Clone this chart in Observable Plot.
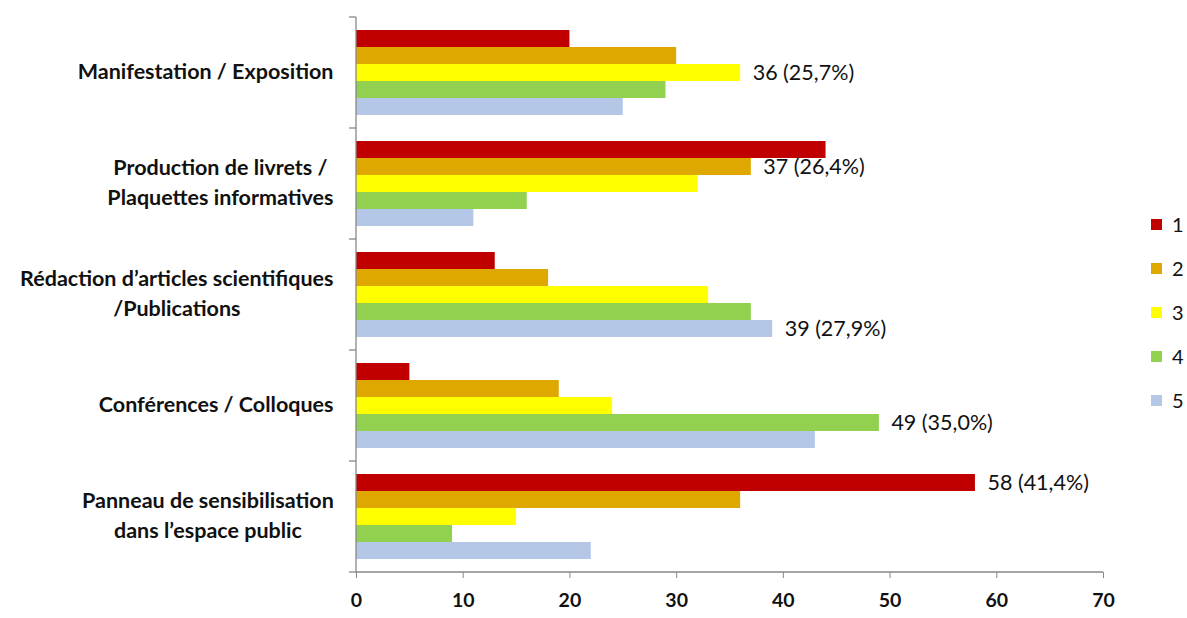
<!DOCTYPE html>
<html><head><meta charset="utf-8">
<script src="https://cdn.jsdelivr.net/npm/d3@7"></script>
<script src="https://cdn.jsdelivr.net/npm/@observablehq/plot@0.6"></script>
<style>
html,body{margin:0;padding:0;background:#fff;}
#wrap{position:relative;width:1187px;height:618px;font-family:Lato,sans-serif;}
#legend{position:absolute;left:1151px;top:212px;}
#legend .lg-swatch{margin:0 0 19px 0 !important;height:24px;}
#legend, #legend *{font-family:Lato,sans-serif !important;font-size:20px !important;color:#111 !important;}
</style></head><body><div id="wrap"><div id="legend"></div></div>
<script>
const categories = [
  "Manifestation / Exposition",
  "Production de livrets /\nPlaquettes informatives",
  "Rédaction d’articles scientifiques\n/Publications",
  "Conférences / Colloques",
  "Panneau de sensibilisation\ndans l’espace public"
];
const series = ["1", "2", "3", "4", "5"];
const series1 = [20, 44, 13, 5, 58];
const series2 = [30, 37, 18, 19, 36];
const series3 = [36, 32, 33, 24, 15];
const series4 = [29, 16, 37, 49, 9];
const series5 = [25, 11, 39, 43, 22];
const colors = ["#C00000", "#DFA800", "#FFFF00", "#92D050", "#B4C7E7"];
const xTicks = [0, 10, 20, 30, 40, 50, 60, 70];
const calloutSeries = ["3", "2", "5", "4", "1"];
const calloutLabels = ["36 (25,7%)", "37 (26,4%)", "39 (27,9%)", "49 (35,0%)", "58 (41,4%)"];

const seriesValues = [series1, series2, series3, series4, series5];
const data = [];
categories.forEach((c, i) => series.forEach((s, j) => data.push({
  category: c, series: s, value: seriesValues[j][i],
  label: calloutSeries[i] === s ? calloutLabels[i] : ""
})));

const chart = Plot.plot({
  width: 1187, height: 618,
  marginTop: 15, marginBottom: 45, marginLeft: 356, marginRight: 84,
  style: {fontFamily: "Lato, sans-serif", background: "#fff", color: "#111"},
  x: {domain: [0, 70]},
  y: {domain: series, paddingInner: 0, paddingOuter: 0.6, axis: null},
  fy: {domain: categories, padding: 0},
  color: {domain: series, range: colors},
  marks: [
    Plot.barX(data, {x: "value", y: "series", fy: "category", fill: "series"}),
    Plot.text(data, {filter: d => d.label, x: "value", y: "series", fy: "category", text: "label",
      textAnchor: "start", dx: 12, fontSize: 21.5, fill: "#111"}),
    Plot.axisX({ticks: xTicks, tickSize: 6, tickPadding: 15, stroke: "#878787", fill: "#111",
      fontSize: 19.5, fontWeight: "bold", label: null}),
    Plot.axisFy({anchor: "left", tickSize: 0, tickPadding: 23, fontSize: 21.5, fontWeight: "bold", lineHeight: 1.42,
      dy: -4, label: null, fill: "#111"})
  ]
});
document.getElementById("wrap").prepend(chart);

// axis lines and category separators from the plot's own scales
const xs = chart.scale("x"), fs = chart.scale("fy");
const x0 = xs.apply(0), x1 = xs.apply(70);
const bounds = categories.map(c => fs.apply(c));
bounds.push(fs.apply(categories[categories.length - 1]) + fs.bandwidth);
const g = d3.select(chart).append("g").attr("stroke", "#878787").attr("stroke-width", 1.3);
g.append("line").attr("x1", x0).attr("x2", x0).attr("y1", bounds[0]).attr("y2", bounds[bounds.length - 1]);
g.append("line").attr("x1", x0).attr("x2", x1).attr("y1", bounds[bounds.length - 1]).attr("y2", bounds[bounds.length - 1]);
bounds.forEach(b => g.append("line").attr("x1", x0 - 7).attr("x2", x0).attr("y1", b).attr("y2", b));

// centre multi-line category labels within their block
d3.select(chart).selectAll('g[aria-label="fy-axis tick label"] text').each(function() {
  const tspans = this.querySelectorAll("tspan");
  if (tspans.length < 2) return;
  const bb = this.getBBox();
  const cx = bb.x + bb.width / 2;
  this.setAttribute("text-anchor", "middle");
  tspans.forEach(t => t.setAttribute("x", cx));
});

const leg = chart.legend("color", {columns: 1, swatchSize: 11, className: "lg"});
document.getElementById("legend").append(leg);
</script>
</body></html>
